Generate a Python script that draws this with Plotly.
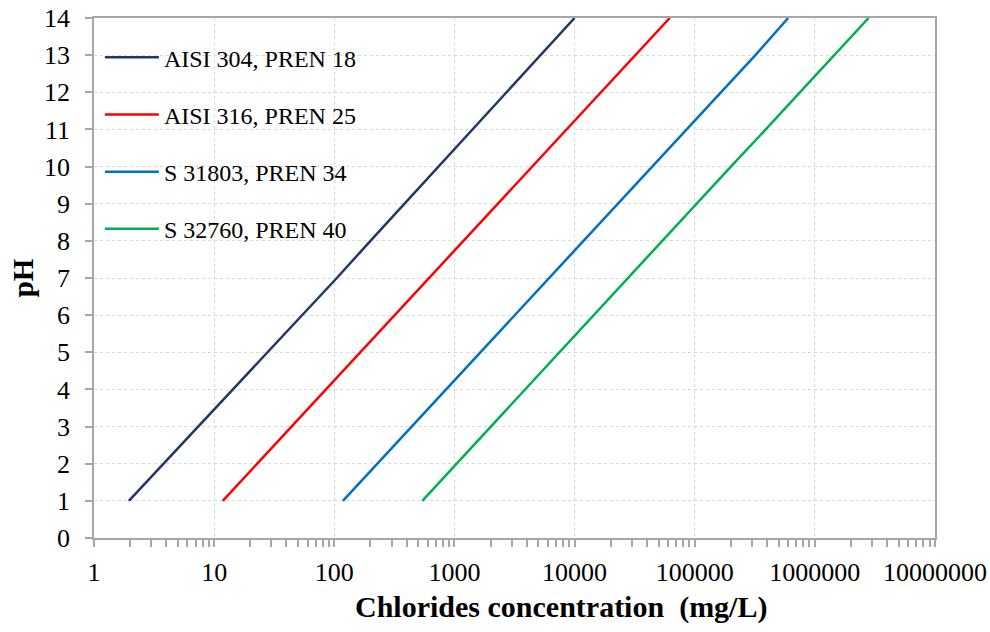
import plotly.graph_objects as go

# pH values at which each critical chloride concentration is given
ph = [1, 2, 3, 4, 5, 6, 7, 8, 9, 10, 11, 12, 13, 14]

# Critical chloride concentration (mg/L) for each grade
aisi304 = [1.95, 3.8, 7.4, 14.3, 27.8, 54, 105, 200, 385, 740, 1420, 2750, 5250, 10000]
aisi316 = [11.8, 22.8, 44, 85, 165, 320, 620, 1200, 2300, 4450, 8600, 16700, 32000, 62000]
s31803 = [118, 228, 440, 850, 1650, 3200, 6150, 11900, 23000, 44500, 86000, 166000, 320000, 600000]
s32760 = [540, 1040, 2000, 3900, 7500, 14400, 28000, 54000, 104000, 200000, 390000, 750000, 1450000, 2800000]

series_names = ["AISI 304, PREN 18", "AISI 316, PREN 25", "S 31803, PREN 34", "S 32760, PREN 40"]
series_colors = ["#1F3864", "#FF0000", "#0070C0", "#00B050"]

x_tick_vals = [1, 10, 100, 1000, 10000, 100000, 1000000, 10000000]
x_tick_text = ["1", "10", "100", "1000", "10000", "100000", "1000000", "10000000"]
y_tick_vals = list(range(0, 15))

x_title = "<b>Chlorides concentration  (mg/L)</b>"
y_title = "<b>pH</b>"

SERIF = "Liberation Serif, Times New Roman, serif"
AXIS_GREY = "#A6A6A6"
GRID_GREY = "#D9D9D9"

fig = go.Figure()
for name, color, values in zip(series_names, series_colors, [aisi304, aisi316, s31803, s32760]):
    fig.add_trace(go.Scatter(
        x=values, y=ph, mode="lines", name=name, legendgroup=name,
        line=dict(color=color, width=2.5),
    ))

fig.update_layout(
    width=990, height=632,
    margin=dict(l=94, r=55, t=18, b=94),
    paper_bgcolor="white", plot_bgcolor="white",
    font=dict(family=SERIF, color="black"),
    showlegend=True,
    legend=dict(
        x=0.007, y=0.967, xanchor="left", yanchor="top",
        bgcolor="rgba(0,0,0,0)", font=dict(family=SERIF, size=24, color="black"),
        tracegroupgap=23, itemwidth=54,
    ),
    xaxis=dict(
        type="log", range=[0, 7], automargin=False,
        tickmode="array", tickvals=x_tick_vals, ticktext=x_tick_text,
        ticks="outside", ticklen=7, tickwidth=1.5, tickcolor=AXIS_GREY,
        ticklabelstandoff=3,
        tickfont=dict(family=SERIF, size=26, color="black"),
        showline=True, linecolor=AXIS_GREY, linewidth=1.5, mirror=True,
        showgrid=True, gridcolor=GRID_GREY, gridwidth=1, griddash="3px,3px",
        minor=dict(ticks="outside", ticklen=7, tickwidth=1.5, tickcolor=AXIS_GREY,
                   dtick="D1", showgrid=False),
        zeroline=False,
    ),
    yaxis=dict(
        range=[0, 14], automargin=False,
        tickmode="array", tickvals=y_tick_vals,
        ticks="outside", ticklen=7, tickwidth=1.5, tickcolor=AXIS_GREY,
        ticklabelstandoff=10,
        tickfont=dict(family=SERIF, size=26, color="black"),
        showline=True, linecolor=AXIS_GREY, linewidth=1.5, mirror=True,
        showgrid=True, gridcolor=GRID_GREY, gridwidth=1, griddash="3px,3px",
        zeroline=False,
    ),
    annotations=[
        dict(text=x_title, xref="paper", yref="paper", x=0.555, y=-0.133,
             xanchor="center", yanchor="middle", showarrow=False,
             font=dict(family=SERIF, size=30, color="black")),
        dict(text=y_title, xref="paper", yref="paper", x=-0.084, y=0.5,
             xanchor="center", yanchor="middle", showarrow=False, textangle=-90,
             font=dict(family=SERIF, size=29, color="black")),
    ],
)

fig.write_html("out.html")
